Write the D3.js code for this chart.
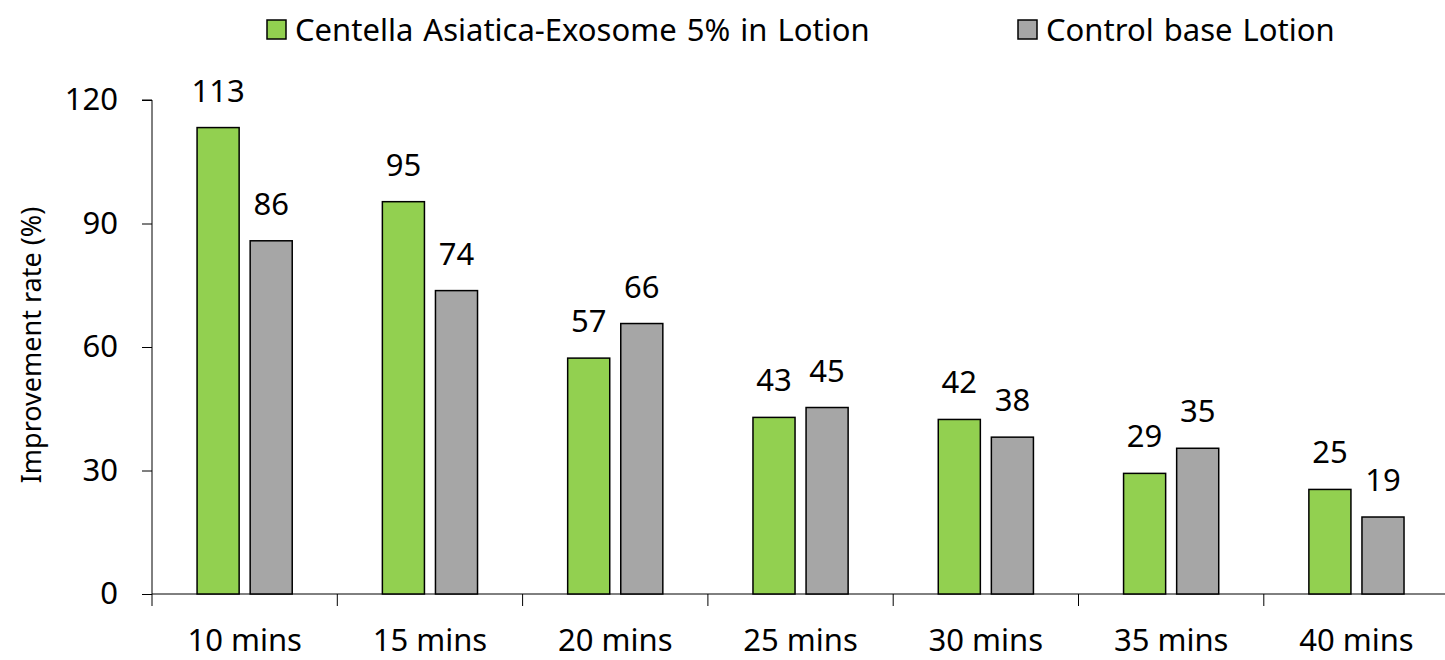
<!DOCTYPE html>
<html>
<head>
<meta charset="utf-8">
<script src="https://cdn.jsdelivr.net/npm/d3@7"></script>
<style>
    body { margin: 0; background: #fff; }
    svg text { font-family: "Noto Sans", "Open Sans", sans-serif; fill: #000; }
</style>
</head>
<body>
<div id="chart"></div>
<script>
// data
const categories = ["10 mins", "15 mins", "20 mins", "25 mins", "30 mins", "35 mins", "40 mins"];
const seriesNames = ["Centella Asiatica-Exosome 5% in Lotion", "Control base Lotion"];
const exosomeValues = [113.3, 95.3, 57.3, 42.9, 42.4, 29.3, 25.4];
const controlValues = [85.8, 73.7, 65.7, 45.3, 38.1, 35.4, 18.7];
const yTicks = [0, 30, 60, 90, 120];
const colors = ["#92d050", "#a6a6a6"];

var width = 1445, height = 660;
var margin = {top: 100, right: -5, bottom: 66, left: 152};
var fontSize = "31px";

var svg = d3.select("#chart")
    .append("svg")
    .attr("width", width)
    .attr("height", height);

var x = d3.scaleBand()
    .domain(categories)
    .range([margin.left, margin.left + 7 * 185.3]);

var xSub = d3.scaleBand()
    .domain(seriesNames)
    .range([0, x.bandwidth()])
    .paddingInner(11 / 53)
    .paddingOuter(45 / 53);

var y = d3.scaleLinear()
    .domain([0, 120])
    .range([594, 100]);

// y axis
var yAxis = svg.append("g")
    .attr("transform", "translate(" + margin.left + ",0)")
    .call(d3.axisLeft(y).tickValues(yTicks).tickSize(10).tickPadding(24));
yAxis.select(".domain").attr("d", "M-10," + y(120) + "H0V" + y(0));
yAxis.selectAll("text").style("font-size", fontSize);

// x axis
var xAxis = svg.append("g")
    .attr("transform", "translate(0," + y(0) + ")")
    .call(d3.axisBottom(x).tickSize(0).tickPadding(35));
xAxis.select(".domain").attr("d", "M" + margin.left + ",0H" + width);
xAxis.selectAll("text").style("font-size", fontSize);
// tick marks between categories
xAxis.selectAll("line.sep")
    .data(categories)
    .enter()
    .append("line")
    .attr("class", "sep")
    .attr("x1", function (d) { return x(d); })
    .attr("x2", function (d) { return x(d); })
    .attr("y1", 0)
    .attr("y2", 12)
    .attr("stroke", "#000");

// y axis title
svg.append("text")
    .attr("transform", "rotate(-90)")
    .attr("x", -(y(60)) + 2)
    .attr("y", 41)
    .style("text-anchor", "middle")
    .style("font-size", "27px")
    .text("Improvement rate (%)");

// bars
var allSeries = [exosomeValues, controlValues];
var groups = svg.selectAll("g.series")
    .data(seriesNames)
    .enter()
    .append("g")
    .attr("class", "series");

groups.each(function (name, si) {
    var g = d3.select(this);
    var vals = allSeries[si];
    g.selectAll("rect")
        .data(categories)
        .enter()
        .append("rect")
        .attr("x", function (c) { return x(c) + xSub(name); })
        .attr("y", function (c, i) { return y(vals[i]); })
        .attr("width", xSub.bandwidth())
        .attr("height", function (c, i) { return y(0) - y(vals[i]); })
        .attr("fill", colors[si])
        .attr("stroke", "#000")
        .attr("stroke-width", 1.5);
    g.selectAll("text")
        .data(categories)
        .enter()
        .append("text")
        .attr("x", function (c) { return x(c) + xSub(name) + xSub.bandwidth() / 2; })
        .attr("y", function (c, i) { return y(vals[i]) - 26; })
        .style("text-anchor", "middle")
        .style("font-size", fontSize)
        .text(function (c, i) { return Math.round(vals[i]); });
});

// legend
var legendX = [267, 1018];
var legend = svg.selectAll("g.legend")
    .data(seriesNames)
    .enter()
    .append("g")
    .attr("class", "legend")
    .attr("transform", function (d, i) { return "translate(" + legendX[i] + ",20)"; });
legend.append("rect")
    .attr("width", 19)
    .attr("height", 19)
    .attr("fill", function (d, i) { return colors[i]; })
    .attr("stroke", "#000")
    .attr("stroke-width", 1.5);
legend.append("text")
    .attr("x", 28)
    .attr("y", 21)
    .style("font-size", fontSize)
    .style("word-spacing", "2px")
    .text(function (d) { return d; });
</script>
</body>
</html>
